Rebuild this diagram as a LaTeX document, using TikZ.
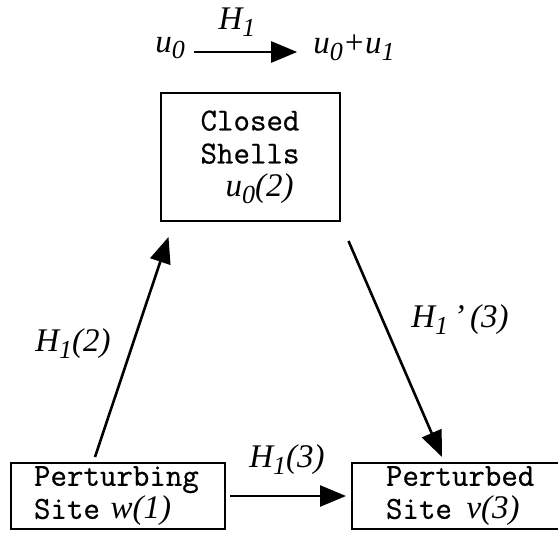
\documentclass[tikz,border=0pt]{standalone}
\usepackage{fontspec}
\newfontfamily\tms{Liberation Serif}
\newfontfamily\mono{Latin Modern Mono}[FakeBold=0.6]
\usetikzlibrary{arrows.meta,calc}
\newcommand{\sbx}[1]{\raisebox{-0.45ex}{\fontsize{26}{26}\selectfont #1}}
\newcommand{\lf}{\tms\itshape\fontsize{33}{36}\selectfont}
\begin{document}
\begin{tikzpicture}[x=1pt,y=-1pt,
  box/.style={draw,line width=2pt,inner ysep=0pt,
    font=\fontsize{32}{33}\selectfont\mono},
  arr/.style={line width=2.6pt,-{Triangle[length=26pt,width=21pt]}},
  lbl/.style={inner sep=0pt,font=\lf}]
\useasboundingbox (0,0) rectangle (558,533);
\node[box,align=center,inner xsep=0pt,minimum width=179pt,minimum height=128pt] (cs) at (250,157)
  {Closed\\Shells\\\hspace*{0.6em}{\lf u\sbx{0}(2)}};
\node[box,align=left,inner xsep=23pt,text width=168pt,minimum height=66pt] (pg) at (118,496)
  {Perturbing\\Site {\lf w(1)}};
\node[box,align=left,inner xsep=34pt,text width=160pt,minimum height=66pt] (pd) at (466,496)
  {Perturbed\\Site \hspace{4pt}{\lf v(3)}};
\node[lbl] (u0) at (170,48) {u\sbx{0}};
\node[lbl] (u01) at (354,48) {u\sbx{0}+u\sbx{1}};
\node[lbl] (h1) at (237,22) {H\sbx{1}};
\draw[arr] ($(u0.east)+(9,4)$) -- ($(u01.west)+(-16,4)$);
\draw[arr] ($(pg.north west)+(85,-5)$) -- ($(cs.south west)+(9,15)$);
\draw[arr] ($(cs.south east)+(8,19)$) -- ($(pd.north west)+(91,-5)$);
\draw[arr] ($(pg.east)+(4,0)$) -- ($(pd.west)+(-5,0)$);
\node[lbl] (l2) at (73,344) {H\sbx{1}(2)};
\node[lbl] (l3a) at (460,320) {H\sbx{1}\,’\,(3)};
\node[lbl] (l3b) at (287,460) {H\sbx{1}(3)};
\end{tikzpicture}
\end{document}
